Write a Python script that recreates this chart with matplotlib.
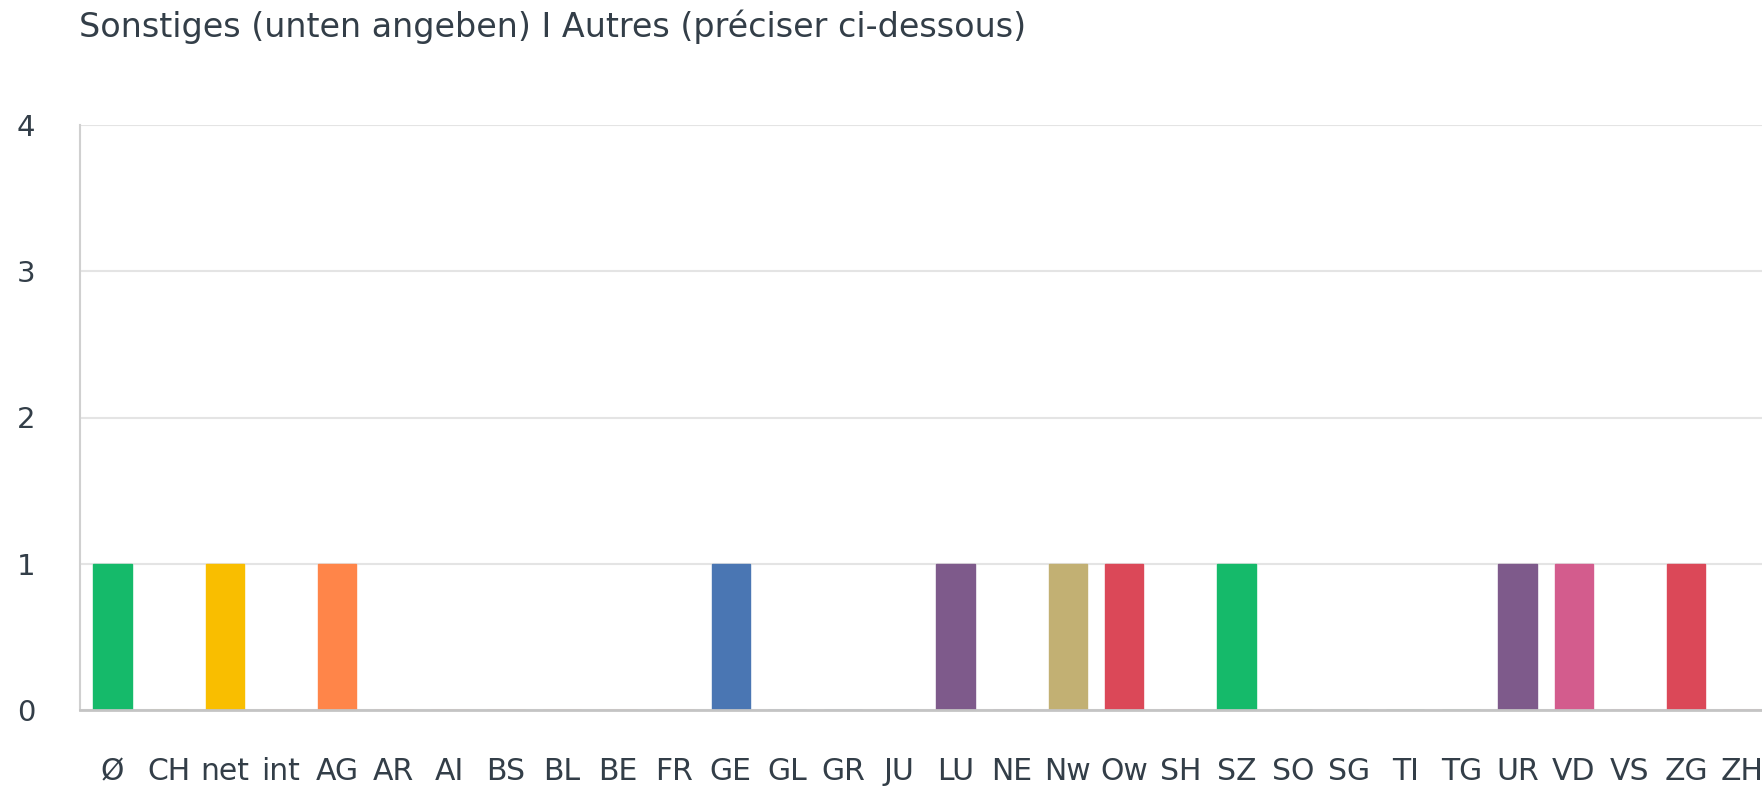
import matplotlib
matplotlib.use("Agg")
import matplotlib.pyplot as plt

# categories (cantons etc.) and counts
kategorien = ['Ø', 'CH', 'net', 'int', 'AG', 'AR', 'AI', 'BS', 'BL', 'BE', 'FR', 'GE', 'GL', 'GR', 'JU',
              'LU', 'NE', 'Nw', 'Ow', 'SH', 'SZ', 'SO', 'SG', 'TI', 'TG', 'UR', 'VD', 'VS', 'ZG', 'ZH']
werte = [1, 0, 1, 0, 1, 0, 0, 0, 0, 0, 0, 1, 0, 0, 0,
         1, 0, 1, 1, 0, 1, 0, 0, 0, 0, 1, 1, 0, 1, 0]
farben = ['#15BA6A', '#F9BE00', '#F9BE00', '#FF8549', '#FF8549', '#FF8549', '#FF8549', '#FF8549', '#FF8549',
          '#FF8549', '#FF8549', '#4A76B3', '#4A76B3', '#4A76B3', '#4A76B3',
          '#7E5A8B', '#7E5A8B', '#C2B073', '#DB4858', '#DB4858', '#15BA6A', '#15BA6A', '#15BA6A', '#15BA6A',
          '#15BA6A', '#7E5A8B', '#D35C8D', '#D35C8D', '#DB4858', '#DB4858']
titel = "Sonstiges (unten angeben) I Autres (préciser ci-dessous)"
yticks = [0, 1, 2, 3, 4]

plt.rcParams['font.family'] = ['DejaVu Sans']
textfarbe = '#333e48'

fig = plt.figure(figsize=(17.62, 7.90), dpi=100)
ax = fig.add_axes([80 / 1762, 1 - 710 / 790, 1 - 80 / 1762, (710 - 125) / 790])

x = list(range(len(kategorien)))
ax.bar(x, werte, width=0.68, color=farben, edgecolor=farben, linewidth=1, zorder=3)

ax.set_xlim(-0.577, 29.35)
ax.set_ylim(0, 4)
ax.set_yticks(yticks)
ax.set_xticks(x)
ax.set_xticklabels(kategorien)
ax.grid(axis='y', color='#e4e4e4', linewidth=1.5, zorder=0)
ax.tick_params(axis='x', length=0, pad=34, labelsize=21.5, labelcolor=textfarbe)
ax.tick_params(axis='y', length=0, pad=32, labelsize=21, labelcolor=textfarbe)

for s in ['top', 'right']:
    ax.spines[s].set_visible(False)
ax.spines['left'].set_color('#d0d0d0')
ax.spines['left'].set_linewidth(1.5)
ax.spines['bottom'].set_color('#c4c4c4')
ax.spines['bottom'].set_linewidth(2)
ax.spines['bottom'].set_zorder(4)

fig.text(79 / 1762, 1 - 37 / 790, titel, fontsize=24, color=textfarbe, va='baseline', ha='left')

fig.savefig('out.png', dpi=100, facecolor='white')
